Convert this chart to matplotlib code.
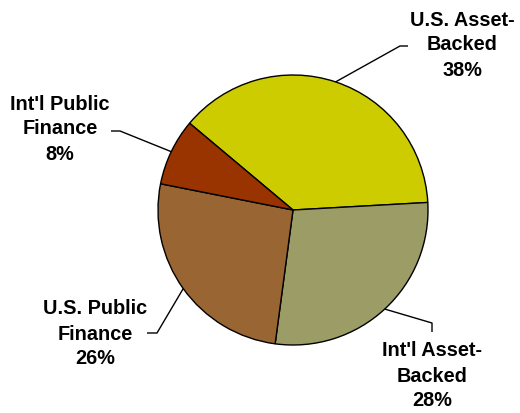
import numpy as np
import matplotlib
matplotlib.use("Agg")
import matplotlib.pyplot as plt

# Portfolio split, drawn clockwise from the upper left
segments = ["U.S. Asset-\nBacked", "Int'l Asset-\nBacked", "U.S. Public\nFinance", "Int'l Public\nFinance"]
shares = [38, 28, 26, 8]
colors = ["#CCCC00", "#9C9C66", "#996633", "#993300"]

W, H = 520, 413
fig = plt.figure(figsize=(W / 100, H / 100), dpi=100)
ax = fig.add_axes([0, 0, 1, 1])
ax.set_xlim(0, W)
ax.set_ylim(0, H)
ax.axis("off")

cx, cy, r = 293, H - 210, 135
wedges, _ = ax.pie(shares, colors=colors, startangle=140, counterclock=False,
                   center=(cx, cy), radius=r,
                   wedgeprops=dict(edgecolor="black", linewidth=1.0))
ax.set_xlim(0, W)
ax.set_ylim(0, H)

# label text centre and leader elbow points (pixel positions, y from top)
text_pos = [(462, 45), (432, 376), (95, 334), (60, 129)]
elbows = [
    [(400, 46), (408, 46)],
    [(432, 323), (432, 332)],
    [(157, 333), (147, 333)],
    [(120, 131), (111, 131)],
]

for w, name, pct, (tx, ty), pts in zip(wedges, segments, shares, text_pos, elbows):
    mid = np.deg2rad((w.theta1 + w.theta2) / 2)
    xs = [cx + r * np.cos(mid)] + [p[0] for p in pts]
    ys = [cy + r * np.sin(mid)] + [H - p[1] for p in pts]
    ax.plot(xs, ys, color="black", linewidth=1.0, solid_capstyle="butt")
    ax.text(tx, H - ty, f"{name}\n{pct}%", ha="center", va="center",
            fontsize=14.3, fontweight="bold", family="Liberation Sans",
            linespacing=1.4)

fig.savefig("out.png", dpi=100)
